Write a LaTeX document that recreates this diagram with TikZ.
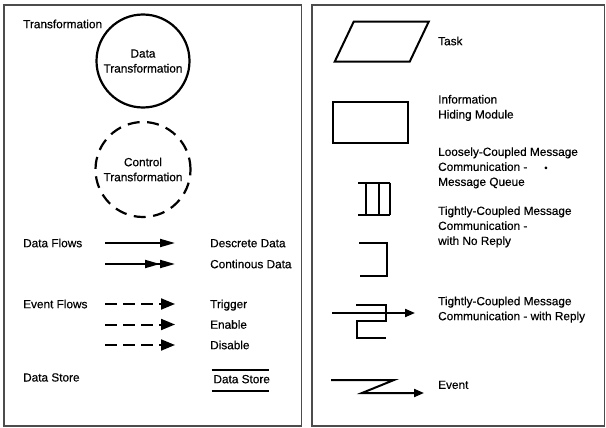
\documentclass[tikz,border=0pt]{standalone}
\usepackage{fontspec}
\setmainfont[FakeBold=0.4]{Liberation Sans}
\usetikzlibrary{arrows.meta}
\begin{document}
\begin{tikzpicture}[x=1pt,y=-1pt,
  lbl/.style={inner sep=0pt,anchor=base west,align=left,font=\fontsize{11.8}{15}\selectfont},
  ctext/.style={font=\fontsize{11.8}{15}\selectfont,align=center,inner sep=0pt},
  frame/.style={draw=black!70,line width=1.3pt},
  sym/.style={draw=black,line width=2pt},
  bigtip/.style={-{Triangle[length=15pt,width=8pt]}},
  dbltip/.style={-{Triangle[length=15pt,width=8pt]Triangle[length=15pt,width=8pt]}},
  evtip/.style={-{Triangle[length=14pt,width=11pt]}},
  smalltip/.style={-{Triangle[length=10pt,width=8pt]}},
  dashflow/.style={dash pattern=on 12pt off 6pt}
]
\useasboundingbox (0,0) rectangle (606,428);
% panels
\draw[frame] (4,5) rectangle (301.5,426);
\draw[frame] (312,5) rectangle (604.5,426);

% ---------- left panel ----------
\node[lbl] (ltrans) at (23,28.2) {Transformation};
\node[circle,draw,line width=2.2pt,minimum size=93pt,ctext] (dtrans) at (143,61) {Data\\Transformation};
\node[circle,draw,line width=2.2pt,minimum size=95pt,dash pattern=on 12pt off 7.5pt,ctext] (ctrans) at (143,169.5) {Control\\Transformation};

\node[lbl] (ldf) at (23,247.2) {Data Flows};
\coordinate (d1s) at (105,243); \coordinate (d1e) at (175,243);
\draw[sym,bigtip] (d1s) -- (d1e);
\node[lbl] (ldd) at (210,247.2) {Descrete Data};
\coordinate (d2s) at (105,264); \coordinate (d2e) at (175,264);
\draw[sym,dbltip] (d2s) -- (d2e);
\node[lbl] (lcd) at (210,268.2) {Continous Data};

\node[lbl] (lef) at (23,308.2) {Event Flows};
\coordinate (e1s) at (105,304); \coordinate (e1e) at (175,304);
\draw[sym,dashflow,evtip] (e1s) -- (e1e);
\node[lbl] (ltr) at (210,308.2) {Trigger};
\coordinate (e2s) at (105,324.5); \coordinate (e2e) at (175,324.5);
\draw[sym,dashflow,evtip] (e2s) -- (e2e);
\node[lbl] (len) at (210,328.7) {Enable};
\coordinate (e3s) at (105,345); \coordinate (e3e) at (175,345);
\draw[sym,dashflow,evtip] (e3s) -- (e3e);
\node[lbl] (ldi) at (210,349.2) {Disable};

\node[lbl] (lds) at (23,381.5) {Data Store};
\node[lbl] (dstore) at (213.3,383.2) {Data Store};
\draw[sym,line width=1.8pt] (211.7,370) -- (269.3,370);
\draw[sym,line width=1.8pt] (211.7,390.7) -- (269.3,390.7);

% ---------- right panel ----------
\draw[sym] (353.7,21.7) -- (428.7,21.7) -- (409.7,61.7) -- (334.7,61.7) -- cycle;
\node[lbl] (ltask) at (438,45.2) {Task};

\draw[sym] (333,101.7) rectangle (408,142.7);
\node[lbl] (lihm) at (438,118.5) {Information\\Hiding Module};

\draw[sym] (358,182.5) -- (389.5,182.5);
\draw[sym] (358,214.5) -- (389.5,214.5);
\draw[sym] (366,182.5) -- (366,214.5);
\draw[sym] (379,182.5) -- (379,214.5);
\draw[sym] (389.5,182.5) -- (389.5,214.5);
\node[lbl] (lq) at (438,185.9) {Loosely-Coupled Message\\Communication -\hspace{17pt}{\small•}\\Message Queue};

\draw[sym] (359,243.3) -- (387,243.3) -- (387,276.3) -- (360,276.3);
\node[lbl] (lnr) at (438,244.9) {Tightly-Coupled Message\\Communication -\\with No Reply};

\coordinate (rs) at (332,313); \coordinate (re) at (415,313);
\draw[sym,smalltip] (rs) -- (re);
\draw[sym] (356,304.5) -- (385.5,304.5) -- (385.5,321) -- (357,321) -- (357,337.5) -- (385.5,337.5);
\node[lbl] (lwr) at (438,320.2) {Tightly-Coupled Message\\Communication - with Reply};

\coordinate (vs) at (331,380); \coordinate (vk) at (394,380); \coordinate (vm) at (362,393); \coordinate (ve) at (424,393);
\draw[sym,smalltip] (vs) -- (vk) -- (vm) -- (ve);
\node[lbl] (lev) at (438,388.9) {Event};
\end{tikzpicture}
\end{document}
